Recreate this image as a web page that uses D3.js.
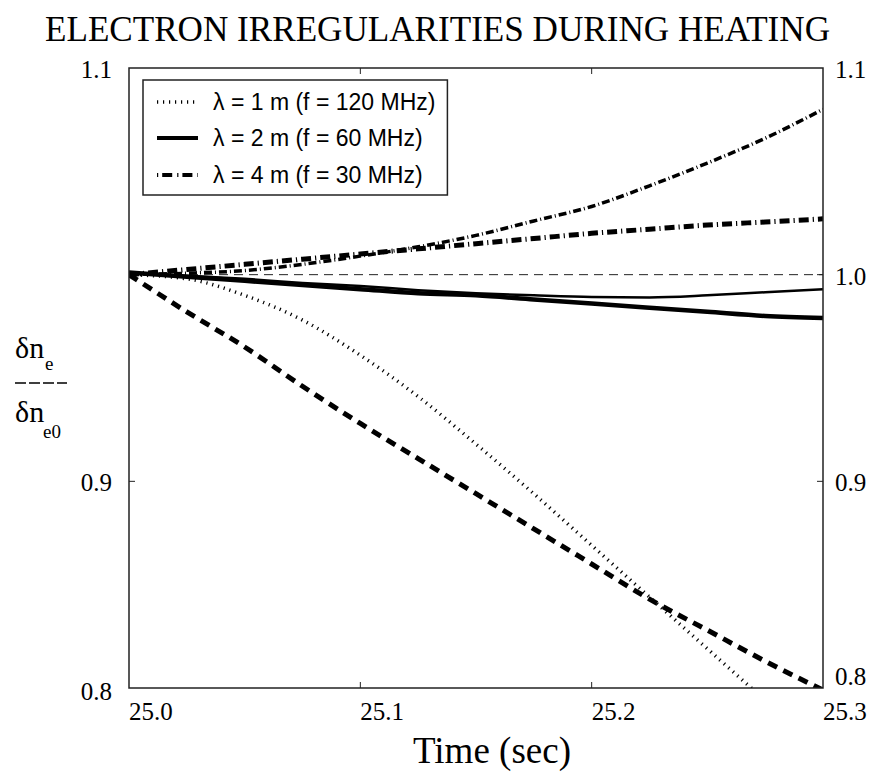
<!DOCTYPE html>
<html>
<head>
<meta charset="utf-8">
<script src="https://cdn.jsdelivr.net/npm/d3@7"></script>
<style>
  html, body { margin: 0; padding: 0; background: #fff; }
  svg { display: block; }
</style>
</head>
<body>
<svg id="chart" width="872" height="773"></svg>
<script>
// Sample times (sec) shared by every curve
const times = [25.000, 25.025, 25.050, 25.075, 25.100, 25.125, 25.150, 25.175, 25.200, 25.225, 25.250, 25.275, 25.300];

// Normalised irregularity amplitude dn_e / dn_e0
const lambda1m      = [1.000, 0.998, 0.990, 0.978, 0.961, 0.941, 0.918, 0.894, 0.869, 0.844, 0.819, 0.794, 0.769];
const lambda2mThin  = [1.001, 0.9995, 0.998, 0.996, 0.9945, 0.9925, 0.991, 0.990, 0.9892, 0.989, 0.990, 0.9915, 0.993];
const lambda2mThick = [1.001, 0.999, 0.997, 0.995, 0.993, 0.991, 0.990, 0.988, 0.986, 0.984, 0.982, 0.980, 0.979];
const lambda4mThin  = [1.000, 1.0007, 1.002, 1.005, 1.009, 1.0135, 1.019, 1.026, 1.033, 1.043, 1.054, 1.066, 1.080];
const lambda4mThick = [1.000, 1.0025, 1.005, 1.0075, 1.010, 1.0125, 1.015, 1.0175, 1.020, 1.022, 1.024, 1.0255, 1.027];
const steepDecline  = [1.000, 0.982, 0.965, 0.946, 0.928, 0.911, 0.894, 0.877, 0.860, 0.843, 0.828, 0.813, 0.799];

const xTickValues = [25.0, 25.1, 25.2, 25.3];
const xTickLabels = ["25.0", "25.1", "25.2", "25.3"];
const leftTickValues = [0.8, 0.9, 1.1];
const rightTickValues = [0.8, 0.9, 1.0, 1.1];
const legendLabels = ["\u03BB = 1 m (f = 120 MHz)", "\u03BB = 2 m (f = 60 MHz)", "\u03BB = 4 m (f = 30 MHz)"];

const titleText = "ELECTRON IRREGULARITIES DURING HEATING";
const xAxisTitle = "Time (sec)";

const svg = d3.select("#chart");
const plot = { left: 129, top: 68, right: 823, bottom: 688 };

const x = d3.scaleLinear().domain([25.0, 25.3]).range([plot.left, plot.right]);
const y = d3.scaleLinear().domain([0.8, 1.1]).range([plot.bottom, plot.top]);

const serif = "'Liberation Serif', 'Times New Roman', Times, serif";
const sans = "'Liberation Sans', Arial, Helvetica, sans-serif";
const ink = "#000";
const frameInk = "#222";

// Title (slightly condensed serif)
svg.append("text")
  .attr("x", 45).attr("y", 41)
  .attr("font-family", serif).attr("font-size", 36)
  .attr("textLength", 785).attr("lengthAdjust", "spacingAndGlyphs")
  .attr("fill", ink)
  .text(titleText);

// Clip region for the curves
svg.append("defs").append("clipPath").attr("id", "plot-clip")
  .append("rect")
  .attr("x", plot.left).attr("y", plot.top)
  .attr("width", plot.right - plot.left).attr("height", plot.bottom - plot.top);

// Inward tick marks on all four sides
const tickLen = 6;
const gTicks = svg.append("g").attr("stroke", frameInk).attr("stroke-width", 1);
[25.1, 25.2].forEach(t => {
  gTicks.append("line").attr("x1", x(t)).attr("x2", x(t)).attr("y1", plot.top).attr("y2", plot.top + tickLen);
  gTicks.append("line").attr("x1", x(t)).attr("x2", x(t)).attr("y1", plot.bottom).attr("y2", plot.bottom - tickLen);
});
[0.9, 1.0].forEach(v => {
  gTicks.append("line").attr("x1", plot.left).attr("x2", plot.left + tickLen).attr("y1", y(v)).attr("y2", y(v));
  gTicks.append("line").attr("x1", plot.right).attr("x2", plot.right - tickLen).attr("y1", y(v)).attr("y2", y(v));
});

// Reference level at 1.0
svg.append("line")
  .attr("x1", plot.left).attr("x2", plot.right)
  .attr("y1", y(1.0)).attr("y2", y(1.0))
  .attr("stroke", "#222").attr("stroke-width", 1)
  .attr("stroke-dasharray", "9,6");

// Curves
const line = d3.line()
  .x((d, i) => x(times[i]))
  .y(d => y(d))
  .curve(d3.curveMonotoneX);

const curves = [
  { values: steepDecline,  width: 5,   dash: "10,7" },
  { values: lambda1m,      width: 3.5, dash: "1.2,4.8" },
  { values: lambda2mThin,  width: 2.5, dash: null },
  { values: lambda2mThick, width: 4.5, dash: null },
  { values: lambda4mThin,  width: 3.5, dash: "8,3,1,3" },
  { values: lambda4mThick, width: 5,   dash: "10,4,1.2,4" }
];

const gCurves = svg.append("g").attr("clip-path", "url(#plot-clip)");
curves.forEach(c => {
  gCurves.append("path")
    .attr("d", line(c.values))
    .attr("fill", "none")
    .attr("stroke", ink)
    .attr("stroke-width", c.width)
    .attr("stroke-dasharray", c.dash)
    .attr("stroke-linecap", "butt");
});

// Frame
svg.append("rect")
  .attr("x", plot.left).attr("y", plot.top)
  .attr("width", plot.right - plot.left).attr("height", plot.bottom - plot.top)
  .attr("fill", "none").attr("stroke", frameInk).attr("stroke-width", 1.5);

// Tick labels
const tickFont = 25;
xTickValues.forEach((t, i) => {
  svg.append("text")
    .attr("x", x(t)).attr("y", 720)
    .attr("font-family", serif).attr("font-size", tickFont)
    .attr("fill", ink)
    .text(xTickLabels[i]);
});
const yFmt = d3.format(".1f");
leftTickValues.forEach(v => {
  const base = v === 0.8 ? y(v) + 12 : y(v) + 10;
  svg.append("text")
    .attr("x", 112).attr("y", base)
    .attr("text-anchor", "end")
    .attr("font-family", serif).attr("font-size", tickFont)
    .attr("fill", ink)
    .text(yFmt(v));
});
rightTickValues.forEach(v => {
  const base = v === 0.8 ? y(v) - 3 : y(v) + 10;
  svg.append("text")
    .attr("x", 835).attr("y", base)
    .attr("font-family", serif).attr("font-size", tickFont)
    .attr("fill", ink)
    .text(yFmt(v));
});

// Axis titles
svg.append("text")
  .attr("x", 492).attr("y", 763)
  .attr("text-anchor", "middle")
  .attr("font-family", serif).attr("font-size", 37)
  .attr("fill", ink)
  .text(xAxisTitle);

// y-axis title: dn_e over dn_e0, with a dashed fraction bar
const yLab = svg.append("g").attr("font-family", serif).attr("fill", ink);
yLab.append("text").attr("x", 15).attr("y", 358).attr("font-size", 30).text("\u03B4n");
yLab.append("text").attr("x", 45).attr("y", 370).attr("font-size", 19).text("e");
yLab.append("line")
  .attr("x1", 15).attr("x2", 67).attr("y1", 383).attr("y2", 383)
  .attr("stroke", ink).attr("stroke-width", 1.5).attr("stroke-dasharray", "11,3");
yLab.append("text").attr("x", 15).attr("y", 422).attr("font-size", 30).text("\u03B4n");
yLab.append("text").attr("x", 43).attr("y", 438).attr("font-size", 19).text("e0");

// Legend
const legend = svg.append("g");
const legendStyles = [
  { width: 3.5, dash: "1.2,4.8" },
  { width: 4,   dash: null },
  { width: 4,   dash: "1.2,4,10,5" }
];
const rowY = [102, 138, 175];
const legendTexts = [];
legendLabels.forEach((lab, i) => {
  legend.append("line")
    .attr("x1", 157).attr("x2", 198)
    .attr("y1", rowY[i]).attr("y2", rowY[i])
    .attr("stroke", ink).attr("stroke-width", legendStyles[i].width)
    .attr("stroke-dasharray", legendStyles[i].dash);
  const t = legend.append("text")
    .attr("x", 213).attr("y", rowY[i] + 8)
    .attr("font-family", sans).attr("font-size", 23)
    .attr("fill", ink)
    .text(lab);
  legendTexts.push(t);
});
const maxW = d3.max(legendTexts, t => t.node().getComputedTextLength());
legend.insert("rect", ":first-child")
  .attr("x", 143).attr("y", 80)
  .attr("width", 213 + maxW + 12 - 143).attr("height", 115)
  .attr("fill", "#fff").attr("stroke", frameInk).attr("stroke-width", 1.5);
</script>
</body>
</html>
